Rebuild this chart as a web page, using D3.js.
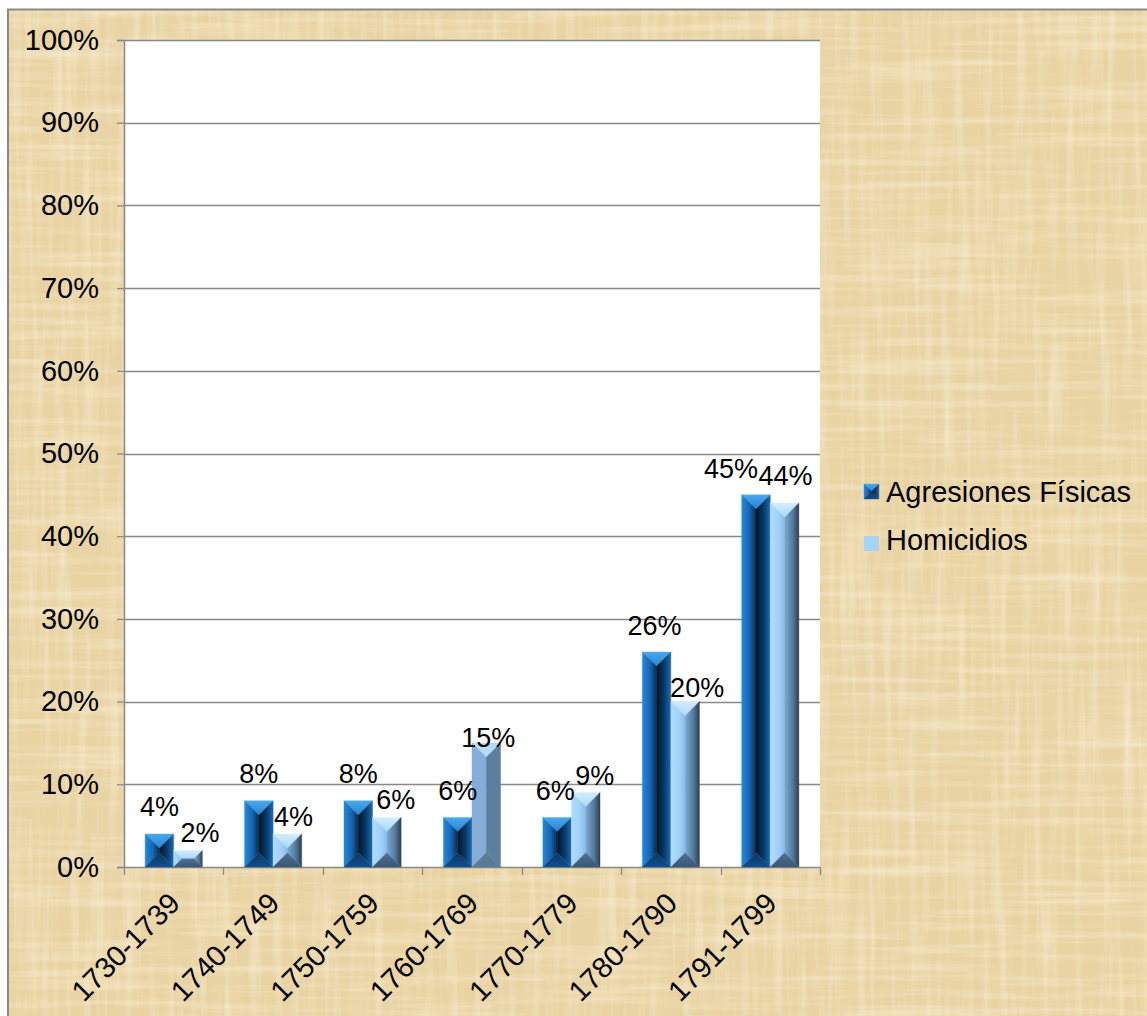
<!DOCTYPE html>
<html><head><meta charset="utf-8">
<script src="https://cdn.jsdelivr.net/npm/d3@7"></script>
<style>
body{margin:0;background:#fff}
svg{display:block}
text{font-family:"Liberation Sans",Arial,sans-serif;fill:#000}
</style>
</head><body>
<svg id="c" width="1147" height="1016"></svg>
<script>
// ---- data ----
const categories = ["1730-1739","1740-1749","1750-1759","1760-1769","1770-1779","1780-1790","1791-1799"];
const seriesNames = ["Agresiones Físicas","Homicidios"];
const agresiones = [0.04,0.08,0.08,0.06,0.06,0.26,0.45];
const homicidios = [0.02,0.04,0.06,0.15,0.09,0.20,0.44];
const yTicks = [0,0.1,0.2,0.3,0.4,0.5,0.6,0.7,0.8,0.9,1.0];

// label nudges (layout only)
const agrLabelDx = [0,0,0,0,-2,-2,-25];
const homLabelDx = [12,6,9,2,9,12,1];
const agrLabelDy = [-18,-18,-18,-17,-17,-17,-17];
const homLabelDy = [-8,-8,-8,4,-8,-5,-18];

// ---- layout ----
const W = 1147, H = 1016;
const plot = {left:124, right:820, top:40, bottom:867};
const svg = d3.select("#c");
const defs = svg.append("defs");

// papyrus texture
function noiseFilter(id, freq, seed, rgb, a, b, oct){
  const f = defs.append("filter").attr("id",id).attr("x",0).attr("y",0).attr("width","100%").attr("height","100%");
  f.append("feTurbulence").attr("type","fractalNoise").attr("baseFrequency",freq).attr("numOctaves",oct||3).attr("seed",seed);
  f.append("feColorMatrix").attr("type","matrix")
   .attr("values",`0 0 0 0 ${rgb[0]} 0 0 0 0 ${rgb[1]} 0 0 0 0 ${rgb[2]} ${a} 0 0 0 ${b}`);
}
noiseFilter("fibH", "0.006 0.12", 3, [0.98,0.92,0.76], 1.0, -0.45);
noiseFilter("fibV", "0.12 0.006", 7, [0.98,0.91,0.74], 1.0, -0.45);
noiseFilter("fibHd", "0.005 0.15", 5, [0.78,0.64,0.38], 0.9, -0.45);
noiseFilter("fibVd", "0.15 0.005", 9, [0.78,0.64,0.38], 0.9, -0.45);
noiseFilter("patch", "0.012 0.012", 11, [0.80,0.66,0.40], 0.9, -0.42, 2);

svg.append("rect").attr("width",W).attr("height",H).attr("fill","#fff");
const bg = svg.append("g");
bg.append("rect").attr("x",8).attr("y",10).attr("width",W).attr("height",H).attr("fill","#e9d3a2");
["patch","fibHd","fibVd","fibH","fibV"].forEach(f=>{
  bg.append("rect").attr("x",8).attr("y",10).attr("width",W).attr("height",H).attr("filter",`url(#${f})`);
});
svg.append("rect").attr("x",8).attr("y",9.5).attr("width",W+10).attr("height",H+10)
  .attr("fill","none").attr("stroke","#8a8a8a").attr("stroke-width",2);

// plot area
svg.append("rect").attr("x",plot.left).attr("y",plot.top)
  .attr("width",plot.right-plot.left).attr("height",plot.bottom-plot.top).attr("fill","#fff");

// scales
const x = d3.scaleBand().domain(categories).range([plot.left, plot.right]).padding(0);
const x1 = d3.scaleBand().domain(seriesNames).range([0, x.bandwidth()]).paddingInner(0).paddingOuter(0.74);
const y = d3.scaleLinear().domain([0,1]).range([plot.bottom, plot.top]);

// gridlines
svg.append("g").selectAll("line").data(yTicks.filter(d=>d>0)).join("line")
  .attr("x1",plot.left).attr("x2",plot.right)
  .attr("y1",d=>Math.round(y(d))+0.5).attr("y2",d=>Math.round(y(d))+0.5)
  .attr("stroke","#898989").attr("stroke-width",1.3);

// y axis
const yAxis = d3.axisLeft(y).tickValues(yTicks).tickFormat(d=>Math.round(d*100)+"%").tickSize(7).tickPadding(18);
const gy = svg.append("g").attr("transform",`translate(${plot.left},0)`).call(yAxis);
gy.select(".domain").attr("stroke","#898989").attr("stroke-width",1.5);
gy.selectAll(".tick line").attr("stroke","#898989").attr("stroke-width",1.3);
gy.selectAll(".tick text").attr("font-size",29).attr("font-family","Liberation Sans, Arial, sans-serif").attr("fill","#000");

// x axis
const gx = svg.append("g").attr("transform",`translate(0,${plot.bottom})`);
gx.append("line").attr("x1",plot.left).attr("x2",plot.right).attr("y1",0.5).attr("y2",0.5).attr("stroke","#898989").attr("stroke-width",1.5);
const boundaries = categories.map(c=>x(c)).concat([plot.right]);
gx.selectAll("line.tk").data(boundaries).join("line").attr("class","tk")
  .attr("x1",d=>Math.round(d)+0.5).attr("x2",d=>Math.round(d)+0.5).attr("y1",0).attr("y2",8)
  .attr("stroke","#898989").attr("stroke-width",1.3);
gx.selectAll("text").data(categories).join("text")
  .attr("transform",d=>`translate(${x(d)+x.bandwidth()/2+8},38) rotate(-45)`)
  .attr("text-anchor","end").attr("font-size",29).text(d=>d);

// gradients
function grad(id, dir, stops){
  const g = defs.append("linearGradient").attr("id",id);
  if(dir==="h"){g.attr("x1",0).attr("y1",0).attr("x2",1).attr("y2",0);}
  else {g.attr("x1",0).attr("y1",0).attr("x2",0).attr("y2",1);}
  stops.forEach(([o,c])=>g.append("stop").attr("offset",o).attr("stop-color",c));
  return `url(#${id})`;
}
const palA = {
  top: grad("aT","v",[[0,"#4aa8f0"],[1,"#2784d4"]]),
  left: grad("aL","h",[[0,"#2688da"],[0.55,"#1566b2"],[1,"#062c50"]]),
  right: grad("aR","h",[[0,"#011426"],[0.55,"#093c6a"],[1,"#1a6cb8"]]),
  bottom: grad("aB","v",[[0,"#0a3660"],[1,"#104f8e"]])
};
const palH = {
  top: grad("hT","v",[[0,"#d2ecfe"],[1,"#aad9fb"]]),
  left: grad("hL","h",[[0,"#b0dcfc"],[0.6,"#a0d0f6"],[1,"#88bbe6"]]),
  right: grad("hR","h",[[0,"#7cabd5"],[0.6,"#52779a"],[1,"#2b3e52"]]),
  bottom: grad("hB","v",[[0,"#4f7193"],[1,"#3a5774"]])
};
const palFlat = {top:"#b6ddf6", left:"#86acd8", right:"#5e7e9d", bottom:"#5b7a98"};

function bevelBar(g, x0, y0, w, h, pal){
  const b = Math.min(w/2, h/2), xr = x0+w, yb = y0+h;
  const faces = [
    ["top",[[x0,y0],[xr,y0],[xr-b,y0+b],[x0+b,y0+b]]],
    ["left",[[x0,y0],[x0+b,y0+b],[x0+b,yb-b],[x0,yb]]],
    ["right",[[xr,y0],[xr,yb],[xr-b,yb-b],[xr-b,y0+b]]],
    ["bottom",[[x0,yb],[x0+b,yb-b],[xr-b,yb-b],[xr,yb]]]
  ];
  faces.forEach(([k,pts])=>{
    g.append("polygon").attr("points",pts.map(p=>p.join(",")).join(" "))
      .attr("fill",pal[k]).attr("stroke",pal[k]).attr("stroke-width",0.4);
  });
}

const barsG = svg.append("g");
const labG = svg.append("g");
const seriesData = [agresiones, homicidios];
seriesData.forEach((vals, si)=>{
  vals.forEach((v, ci)=>{
    const cat = categories[ci];
    const bx = x(cat) + x1(seriesNames[si]);
    const bw = x1.bandwidth();
    const top = y(v), h = y(0) - y(v);
    let pal = si===0 ? palA : palH;
    if(si===1 && cat==="1760-1769") pal = palFlat;
    bevelBar(barsG, bx, top, bw, h, pal);
    const dx = si===0 ? agrLabelDx[ci] : homLabelDx[ci];
    const dy = si===0 ? agrLabelDy[ci] : homLabelDy[ci];
    labG.append("text").attr("x", bx + bw/2 + dx).attr("y", top + dy)
      .attr("text-anchor","middle").attr("font-size",27).text(Math.round(v*100)+"%");
  });
});

// legend
const leg = svg.append("g").attr("transform","translate(864,0)");
bevelBar(leg, 0, 484, 15, 15, palA);
leg.append("rect").attr("x",0).attr("y",536).attr("width",15).attr("height",15).attr("fill","#a6d4f8");
leg.append("text").attr("x",22).attr("y",502).attr("font-size",29).text(seriesNames[0]);
leg.append("text").attr("x",22).attr("y",550).attr("font-size",29).text(seriesNames[1]);
</script>
</body></html>
